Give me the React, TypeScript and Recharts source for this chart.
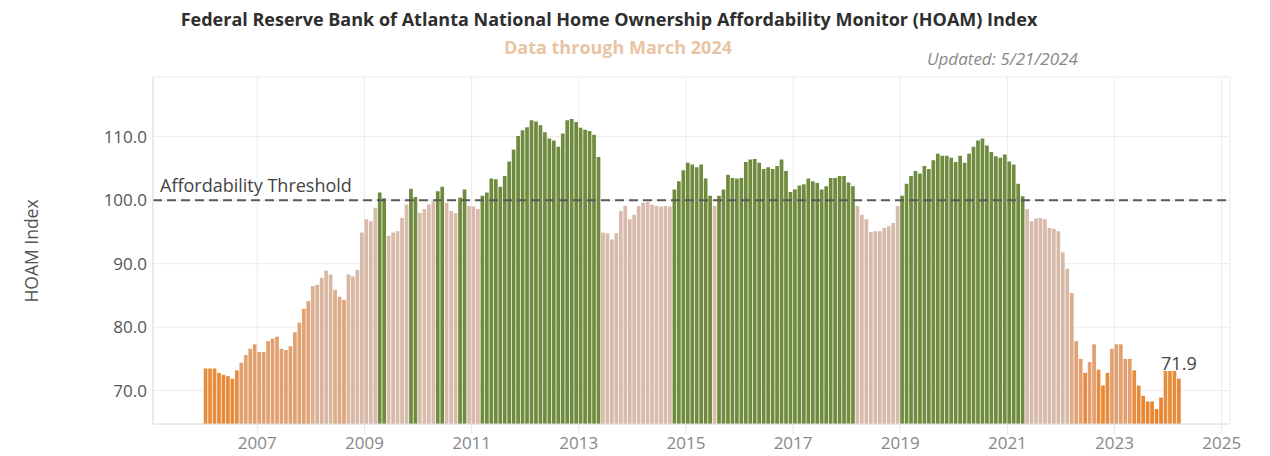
import React from 'react';
import { ComposedChart, Bar, XAxis, YAxis, CartesianGrid, ReferenceLine, Cell, LabelList } from 'recharts';

const START_YEAR = 2006;

// Monthly HOAM index, Jan 2006 .. Mar 2024
const hoamIndex: number[] = [
  73.5, 73.5, 73.5, 72.8, 72.5, 72.3, 71.9, 73.2, 74.4, 75.6, 76.6, 77.3,
  76.1, 76.1, 77.8, 78.2, 78.5, 76.6, 76.4, 77.0, 79.2, 80.7, 82.9, 84.1,
  86.5, 86.7, 87.8, 88.9, 88.3, 85.9, 84.8, 84.3, 88.3, 88.0, 89.0, 94.9,
  97.0, 96.7, 98.8, 101.2, 100.3, 94.4, 94.9, 95.1, 97.2, 99.3, 101.8, 100.5,
  98.0, 98.6, 99.3, 99.8, 101.4, 102.1, 99.6, 98.3, 98.0, 100.4, 101.7, 99.1,
  99.0, 98.6, 100.7, 101.2, 103.4, 103.3, 102.1, 103.8, 106.1, 108.0, 110.1, 111.0,
  111.5, 112.6, 112.4, 111.8, 110.7, 109.7, 109.4, 108.4, 110.5, 112.6, 112.8, 112.3,
  111.4, 111.1, 110.9, 110.3, 106.8, 94.9, 94.8, 93.8, 94.8, 98.3, 99.1, 97.0,
  97.7, 99.1, 99.6, 99.7, 99.3, 99.1, 99.0, 99.1, 99.0, 101.7, 103.0, 104.7,
  105.9, 105.6, 105.2, 105.6, 103.4, 100.7, 99.1, 100.7, 101.7, 104.0, 103.5, 103.4,
  103.5, 106.0, 106.4, 106.5, 105.9, 104.9, 105.2, 104.9, 105.4, 106.4, 104.6, 101.3,
  101.7, 102.3, 102.5, 103.4, 103.0, 102.7, 101.7, 102.2, 103.5, 103.5, 103.8, 103.8,
  102.8, 102.2, 99.1, 97.7, 97.0, 95.0, 95.1, 95.1, 95.6, 95.9, 96.4, 99.1,
  100.7, 102.6, 103.8, 104.6, 104.2, 105.4, 104.9, 106.3, 107.3, 107.0, 107.0, 106.7,
  106.0, 107.0, 105.9, 107.3, 108.4, 109.4, 109.7, 108.6, 107.6, 106.9, 106.7, 107.2,
  106.1, 105.6, 102.6, 100.6, 98.6, 96.7, 97.1, 97.2, 97.0, 95.6, 95.5, 95.1,
  91.8, 89.2, 85.4, 77.8, 75.0, 72.8, 74.5, 77.3, 73.3, 70.8, 72.8, 76.6,
  77.3, 77.3, 75.0, 75.0, 73.2, 70.8, 69.2, 68.3, 68.3, 67.1, 68.9, 73.1,
  73.1, 73.1, 71.9,
];

const yearTicks: number[] = [2007, 2009, 2011, 2013, 2015, 2017, 2019, 2021, 2023, 2025];
const valueTicks: number[] = [70, 80, 90, 100, 110];
const thresholdValue = 100;

const chartTitle = 'Federal Reserve Bank of Atlanta National Home Ownership Affordability Monitor (HOAM) Index';
const chartSubtitle = 'Data through March 2024';
const updatedText = 'Updated: 5/21/2024';
const yAxisTitle = 'HOAM Index';
const thresholdLabel = 'Affordability Threshold';

const data = hoamIndex.map((v, i) => ({ x: START_YEAR + (i + 0.5) / 12, value: v }));

const GREEN = '#6f8b3e';
const stops: [number, number[]][] = [
  [67, [232, 131, 44]],
  [73.5, [232, 139, 60]],
  [74.5, [227, 159, 110]],
  [84, [224, 164, 118]],
  [86.5, [219, 176, 146]],
  [89, [216, 184, 166]],
  [100, [216, 187, 172]],
];

function colorFor(v: number): string {
  if (v >= thresholdValue) return GREEN;
  if (v <= stops[0][0]) return `rgb(${stops[0][1].join(',')})`;
  for (let i = 1; i < stops.length; i++) {
    const [v1, c1] = stops[i];
    const [v0, c0] = stops[i - 1];
    if (v <= v1) {
      const t = (v - v0) / (v1 - v0);
      const c = c0.map((a, k) => Math.round(a + (c1[k] - a) * t));
      return `rgb(${c.join(',')})`;
    }
  }
  return `rgb(${stops[stops.length - 1][1].join(',')})`;
}

const FONT = '"Open Sans", Lato, sans-serif';

const ThresholdLabel = (props: any) => {
  const vb = props.viewBox || {};
  return (
    <text x={(vb.x || 0) + 7} y={(vb.y || 0) - 8} fill="#444" fontSize={18} fontFamily={FONT}>
      {thresholdLabel}
    </text>
  );
};

const LastValueLabel = (props: any) => {
  const { x, y, width, index, value } = props;
  if (index !== hoamIndex.length - 1) return null;
  return (
    <text x={x + width / 2} y={y - 9} textAnchor="middle" fill="#444" fontSize={18} fontFamily={FONT}>
      {Number(value).toFixed(1)}
    </text>
  );
};

export default function App() {
  return (
    <div style={{ position: 'relative', width: 1270, height: 456, background: '#fff', fontFamily: FONT }}>
      <style>{'body{margin:0;}'}</style>
      <div style={{ position: 'absolute', left: 0, top: 9, width: 1218, textAlign: 'center', fontSize: 18, fontWeight: 700, color: '#2e2e2e', whiteSpace: 'nowrap', lineHeight: '20px' }}>
        {chartTitle}
      </div>
      <div style={{ position: 'absolute', left: 0, top: 37, width: 1236, textAlign: 'center', fontSize: 18, fontWeight: 700, color: '#e9c4a4', whiteSpace: 'nowrap', lineHeight: '20px' }}>
        {chartSubtitle}
      </div>
      <div style={{ position: 'absolute', left: 927, top: 49, fontSize: 17, fontStyle: 'italic', color: '#888', whiteSpace: 'nowrap', lineHeight: '20px' }}>
        {updatedText}
      </div>
      <div style={{ position: 'absolute', left: 31, top: 251, transform: 'translate(-50%, -50%) rotate(-90deg)', fontSize: 17.5, color: '#555', whiteSpace: 'nowrap', lineHeight: '20px' }}>
        {yAxisTitle}
      </div>
      <div style={{ position: 'absolute', left: 0, top: 0 }}>
        <ComposedChart width={1270} height={456} data={data} margin={{ top: 77, right: 40, bottom: 2, left: 0 }}>
          <CartesianGrid stroke="#ebebeb" strokeWidth={1} />
          <XAxis
            dataKey="x"
            type="number"
            domain={[2005.053, 2025.155]}
            allowDataOverflow
            ticks={yearTicks}
            interval={0}
            height={30}
            tickFormatter={(v: number) => String(v)}
            tick={{ fill: '#888', fontSize: 17, fontFamily: FONT }}
            tickLine={{ stroke: '#e6e6e6' }}
            tickSize={10}
            tickMargin={3}
            axisLine={{ stroke: '#e0e0e0' }}
          />
          <YAxis
            type="number"
            width={153}
            domain={[64.75, 119.4]}
            allowDataOverflow
            ticks={valueTicks}
            interval={0}
            tickFormatter={(v: number) => v.toFixed(1)}
            tick={{ fill: '#555', fontSize: 17, fontFamily: FONT }}
            tickLine={false}
            tickSize={0}
            tickMargin={6}
            axisLine={{ stroke: '#e0e0e0' }}
          />
          <Bar dataKey="value" barSize={3.7} isAnimationActive={false}>
            {data.map((d, i) => (
              <Cell key={i} fill={colorFor(d.value)} />
            ))}
            <LabelList dataKey="value" content={LastValueLabel} />
          </Bar>
          <ReferenceLine y={thresholdValue} stroke="#5a5a5a" strokeWidth={2} strokeDasharray="9 5" label={ThresholdLabel} />
        </ComposedChart>
      </div>
    </div>
  );
}
